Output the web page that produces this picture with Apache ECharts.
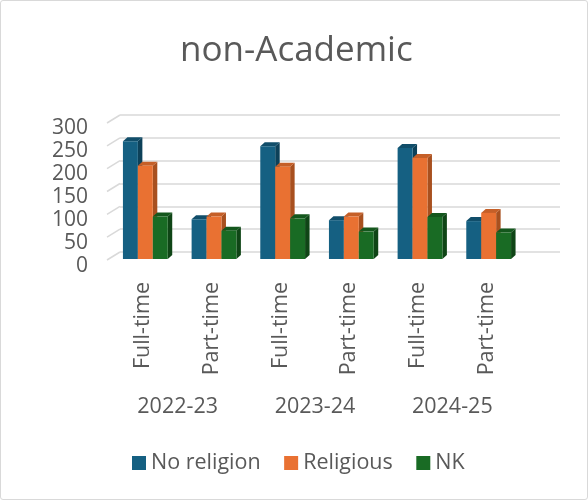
<!DOCTYPE html>
<html><head><meta charset="utf-8">
<script src="https://cdn.jsdelivr.net/npm/echarts@6/dist/echarts.min.js"></script>
<style>
html,body{margin:0;padding:0;background:#fff;}
#c{position:absolute;left:0;top:0;width:586px;height:498px;border:1px solid #d9d9d9;border-radius:3px;}
</style></head>
<body><div id="c"></div>
<script>
const categories = ['Full-time','Part-time','Full-time','Part-time','Full-time','Part-time'];
const years = ['2022-23','2023-24','2024-25'];
const noReligion = [258, 87, 247, 85, 243, 83];
const religious = [204, 93, 202, 93, 221, 101];
const nk = [93, 62, 89, 60, 92, 58];
const yTicks = [0, 50, 100, 150, 200, 250, 300];

const seriesNames = ['No religion','Religious','NK'];
const seriesData = [noReligion, religious, nk];
const front = ['#156082','#E97132','#196B24'];
const side = ['#0d4159','#a8501f','#0f4516'];
const topc = ['#114e6a','#c55f28','#14571d'];

const txt = '#595959';
const font = 'Open Sans';

function make3D(idx){
  return function(params, api){
    const cat = api.value(0), val = api.value(1);
    const band = api.size([1,0])[0];
    const bw = band*0.2174;
    const c = api.coord([cat, val]);
    const b = api.coord([cat, 0]);
    const x0 = c[0] + (idx-1.5)*bw + 2;
    const x1 = x0 + bw;
    const yt = c[1], yb = b[1];
    const dx = 4.5, dy = -4;
    return {type:'group', children:[
      {type:'polygon', shape:{points:[[x1,yt],[x1+dx,yt+dy],[x1+dx,yb+dy],[x1,yb]]}, style:{fill:side[idx]}},
      {type:'polygon', shape:{points:[[x0,yt],[x0+dx,yt+dy],[x1+dx,yt+dy],[x1,yt]]}, style:{fill:topc[idx]}},
      {type:'rect', shape:{x:x0, y:yt, width:bw, height:yb-yt}, style:{fill:front[idx]}}
    ]};
  };
}

const series = seriesData.map((d,i)=>({
  name: seriesNames[i], type:'custom', xAxisIndex:0, yAxisIndex:0,
  renderItem: make3D(i), itemStyle:{color:front[i]},
  data: d.map((v,k)=>[k,v]), z: 5
}));

// slanted side-wall lines on back grid
series.push({
  type:'custom', xAxisIndex:2, yAxisIndex:1, silent:true, legendHoverLink:false,
  renderItem: function(params, api){
    const p = api.coord([0, api.value(0)]);
    const left = params.coordSys.x;
    return {type:'line', shape:{x1:left-13, y1:p[1]+8, x2:left, y2:p[1]}, style:{stroke:'#d9d9d9', lineWidth:1.5}};
  },
  data: yTicks.map(v=>[v]), z:1
});

const chart = echarts.init(document.getElementById('c'), null, {renderer:'canvas'});
chart.setOption({
  animation:false,
  title:{text:'non-Academic', left:174, top:28, textStyle:{fontFamily:font, fontSize:35, fontWeight:'normal', color:txt}},
  legend:{bottom:20, left:126, itemWidth:14, itemHeight:14, itemGap:23.5, icon:'rect',
    data: seriesNames,
    textStyle:{fontFamily:font, fontSize:21.5, color:txt}},
  grid:[
    {left:108, right:66, top:121, bottom:240},
    {left:119, right:27, top:114, bottom:247},
    {left:108, right:66, top:127, bottom:233}
  ],
  xAxis:[
    {type:'category', gridIndex:0, data:categories, axisLine:{show:false}, axisTick:{show:false},
      axisLabel:{rotate:90, margin:23, fontFamily:font, fontSize:21.5, color:txt}},
    {type:'category', gridIndex:0, data:years, position:'bottom', offset:129, axisLine:{show:false}, axisTick:{show:false},
      axisLabel:{margin:8, fontFamily:font, fontSize:21.5, color:txt}},
    {type:'category', gridIndex:1, data:categories, show:false},
    {type:'category', gridIndex:2, data:categories, show:false}
  ],
  yAxis:[
    {type:'value', gridIndex:0, min:0, max:300, interval:50, axisLine:{show:false}, axisTick:{show:false}, splitLine:{show:false},
      axisLabel:{show:false}},
    {type:'value', gridIndex:1, min:0, max:300, interval:50, axisLine:{show:false}, axisTick:{show:false}, axisLabel:{show:false},
      splitLine:{show:true, lineStyle:{color:'#d9d9d9', width:1.5}}},
    {type:'value', gridIndex:2, min:0, max:300, interval:50, axisLine:{show:false}, axisTick:{show:false}, splitLine:{show:false},
      axisLabel:{margin:21, fontFamily:font, fontSize:21, color:txt}}
  ],
  series: series
});
</script></body></html>
